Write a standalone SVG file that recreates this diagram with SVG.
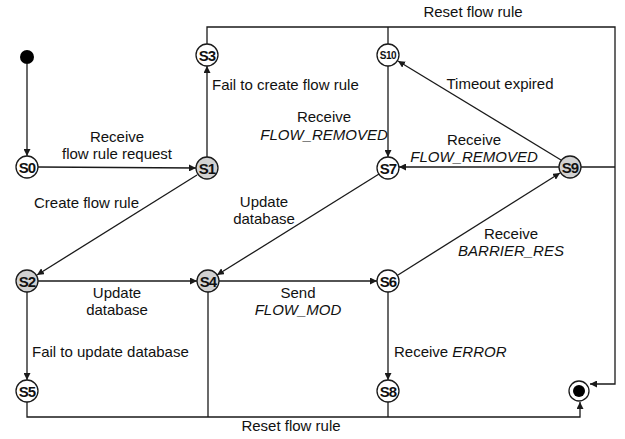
<svg xmlns="http://www.w3.org/2000/svg" width="625" height="439" viewBox="0 0 625 439">
<style>
.bg{fill:#ffffff}
.st{fill:#ffffff;stroke:#1a1a1a;stroke-width:1.3}
.g{fill:#d2d2d2}
.nl{font-family:"Liberation Sans",Arial,sans-serif;font-size:15px;font-weight:bold;fill:#111;text-anchor:middle;letter-spacing:-1px}
.sm{font-size:10px;letter-spacing:-0.5px}
.c{fill:none;stroke:#1a1a1a;stroke-width:1.3}
.t{font-family:"Liberation Sans",Arial,sans-serif;font-size:15px;fill:#111}
.m{text-anchor:middle}
.i{font-style:italic}
</style>
<defs>
<marker id="ah" viewBox="0 0 10 10" refX="10" refY="5" markerWidth="7" markerHeight="7" markerUnits="userSpaceOnUse" orient="auto">
<path d="M0,0 L10,5 L0,10 z" fill="#1a1a1a"/>
</marker>
</defs>
<rect class="bg" x="0" y="0" width="625" height="439"/>
<g id="connectors">
<path class="c" d="M27,64 V156" marker-end="url(#ah)"/>
<path class="c" d="M38,167 L196,168" marker-end="url(#ah)"/>
<path class="c" d="M207,157 V66" marker-end="url(#ah)"/>
<path class="c" d="M197,175 L37,275" marker-end="url(#ah)"/>
<path class="c" d="M379,174 L217,275" marker-end="url(#ah)"/>
<path class="c" d="M38,281 H197" marker-end="url(#ah)"/>
<path class="c" d="M219,281 H377" marker-end="url(#ah)"/>
<path class="c" d="M27,292 V380" marker-end="url(#ah)"/>
<path class="c" d="M388,292 V380" marker-end="url(#ah)"/>
<path class="c" d="M398,275 L560,173" marker-end="url(#ah)"/>
<path class="c" d="M559,167 H399" marker-end="url(#ah)"/>
<path class="c" d="M561,160 L398,61" marker-end="url(#ah)"/>
<path class="c" d="M388,66 V157" marker-end="url(#ah)"/>
<path class="c" d="M207,44 V27 H615 V384 H590" marker-end="url(#ah)"/>
<path class="c" d="M388,27 V44"/>
<path class="c" d="M581,167 H615"/>
<path class="c" d="M27,402 V417 H580 V402" marker-end="url(#ah)"/>
<path class="c" d="M208,292 V417"/>
<path class="c" d="M388,402 V417"/>
</g>
<g id="labels">
<text class="t m" x="117" y="142">Receive</text>
<text class="t m" x="117" y="159">flow rule request</text>
<text class="t" x="212" y="90">Fail to create flow rule</text>
<text class="t" x="34" y="208">Create flow rule</text>
<text class="t m" x="264" y="207">Update</text>
<text class="t m" x="264" y="224">database</text>
<text class="t m" x="324" y="122">Receive</text>
<text class="t m i" x="324" y="140">FLOW_REMOVED</text>
<text class="t m" x="500" y="89">Timeout expired</text>
<text class="t m" x="474" y="145">Receive</text>
<text class="t m i" x="474" y="162">FLOW_REMOVED</text>
<text class="t m" x="473" y="17">Reset flow rule</text>
<text class="t m" x="511" y="239">Receive</text>
<text class="t m i" x="511" y="256">BARRIER_RES</text>
<text class="t m" x="117" y="298">Update</text>
<text class="t m" x="117" y="315">database</text>
<text class="t m" x="298" y="298">Send</text>
<text class="t m i" x="298" y="315">FLOW_MOD</text>
<text class="t" x="32" y="357">Fail to update database</text>
<text class="t" x="394" y="357">Receive <tspan class="i">ERROR</tspan></text>
<text class="t m" x="291" y="431">Reset flow rule</text>
</g>
<g id="init"><circle cx="27" cy="57" r="7" fill="#000"/></g>
<g id="S0"><circle class="st" cx="27" cy="167" r="11"/><text class="nl" x="27" y="172.5">S0</text></g>
<g id="S1"><circle class="st g" cx="207" cy="168" r="11"/><text class="nl" x="207" y="173.5">S1</text></g>
<g id="S2"><circle class="st g" cx="27" cy="281" r="11"/><text class="nl" x="27" y="286.5">S2</text></g>
<g id="S3"><circle class="st" cx="207" cy="55" r="11"/><text class="nl" x="207" y="60.5">S3</text></g>
<g id="S4"><circle class="st g" cx="208" cy="281" r="11"/><text class="nl" x="208" y="286.5">S4</text></g>
<g id="S5"><circle class="st" cx="27" cy="391" r="11"/><text class="nl" x="27" y="396.5">S5</text></g>
<g id="S6"><circle class="st" cx="388" cy="281" r="11"/><text class="nl" x="388" y="286.5">S6</text></g>
<g id="S7"><circle class="st" cx="388" cy="168" r="11"/><text class="nl" x="388" y="173.5">S7</text></g>
<g id="S8"><circle class="st" cx="388" cy="391" r="11"/><text class="nl" x="388" y="396.5">S8</text></g>
<g id="S9"><circle class="st g" cx="570" cy="167" r="11"/><text class="nl" x="570" y="172.5">S9</text></g>
<g id="S10"><circle class="st" cx="388" cy="55" r="11"/><text class="nl sm" x="388" y="58.5">S10</text></g>
<g id="end"><circle class="st" cx="579" cy="391" r="10"/><circle cx="579" cy="391" r="6" fill="#000"/></g>
</svg>
